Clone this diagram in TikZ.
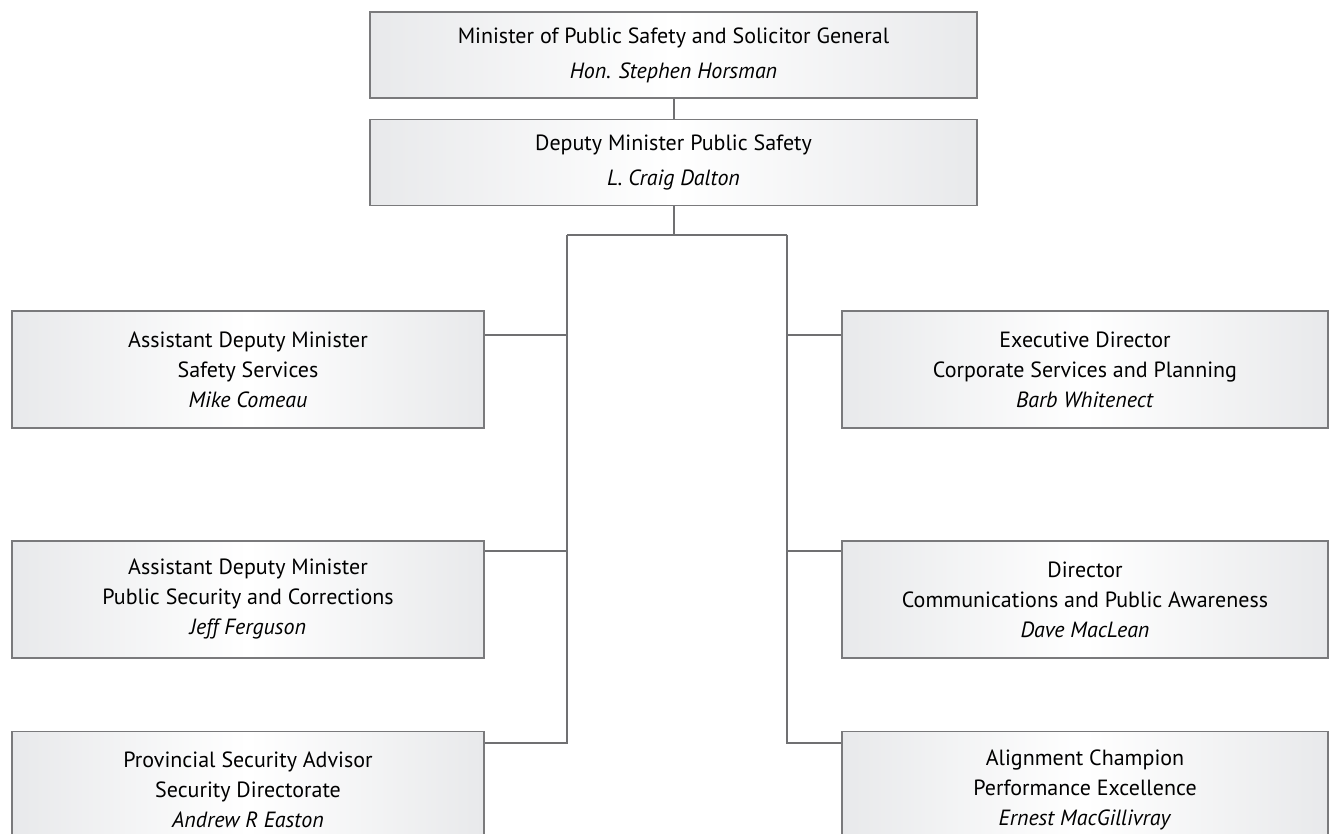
\documentclass[tikz,border=0pt]{standalone}
\usepackage{fontspec}
\setmainfont{PT Sans}
\usepackage{xcolor}
\usetikzlibrary{positioning,calc}
\definecolor{postfill}{RGB}{232,233,235}
\definecolor{postline}{RGB}{122,122,124}
\definecolor{linkgray}{RGB}{112,112,114}

\tikzset{
  post/.style={draw=postline, line width=0.7pt, left color=postfill, right color=postfill, middle color=white,
    align=center, font=\fontsize{11}{15}\selectfont, inner sep=0pt, minimum width=236pt, minimum height=58.5pt},
  head/.style={post, font=\fontsize{11}{17.5}\selectfont, minimum width=303.5pt, minimum height=43pt},
  link/.style={draw=linkgray, line width=1pt}
}

\begin{document}
\begin{tikzpicture}[x=0.5pt, y=-0.5pt]
\useasboundingbox (0,0) rectangle (1340,834);
% top of the chart
\node[head] (min) at (673.5,55) {Minister of Public Safety and Solicitor General\\ \textit{Hon. Stephen Horsman}};
\node[head] (dep) at (673.5,162.5) {Deputy Minister Public Safety\\ \textit{L. Craig Dalton}};
% left column
\node[post] (adm1) at (248,369.5) {Assistant Deputy Minister\\ Safety Services\\ \textit{Mike Comeau}};
\node[post] (adm2) at (248,599.5) {Assistant Deputy Minister\\ Public Security and Corrections\\ \textit{Jeff Ferguson}};
\node[post] (psa) at (248,790) {Provincial Security Advisor\\ Security Directorate\\ \textit{Andrew R Easton}};
% right column
\node[post, minimum width=243pt] (exd) at (1085,369.5) {Executive Director\\ Corporate Services and Planning\\ \textit{Barb Whitenect}};
\node[post, minimum width=243pt] (dir) at (1085,599.5) {Director\\ Communications and Public Awareness\\ \textit{Dave MacLean}};
\node[post, minimum width=243pt] (ace) at (1085,790) {Alignment Champion\\ Performance Excellence\\ \textit{Ernest MacGillivray}};

\coordinate (fork) at (673.5,235);
\coordinate (lsp) at (567,235);
\coordinate (rsp) at (787,235);
\draw[link] (min) -- (dep);
\draw[link] (dep) -- (fork);
\draw[link] (lsp) -- (rsp);
\draw[link] (lsp) |- ([yshift=-12.5pt]adm1.north east);
\draw[link] (lsp) |- ([yshift=-5.5pt]adm2.north east);
\draw[link] (lsp) |- ([yshift=-6pt]psa.north east);
\draw[link] (rsp) |- ([yshift=-12.5pt]exd.north west);
\draw[link] (rsp) |- ([yshift=-5.5pt]dir.north west);
\draw[link] (rsp) |- ([yshift=-6pt]ace.north west);
\end{tikzpicture}
\end{document}
